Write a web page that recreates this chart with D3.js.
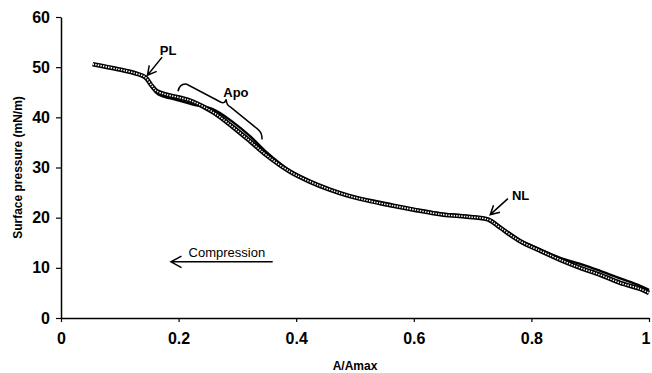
<!DOCTYPE html>
<html>
<head>
<meta charset="utf-8">
<script src="https://cdn.jsdelivr.net/npm/d3@7"></script>
<style>
  body { margin: 0; background: #fff; }
  svg { display: block; font-family: "Liberation Sans", Arial, sans-serif; }
</style>
</head>
<body>
<svg id="chart"></svg>
<script>
var W = 652, H = 373;
var margin = {top: 17, left: 61, right: 3, bottom: 55};

// compression run (open markers)
var compX = [0.054, 0.097, 0.126, 0.143, 0.155, 0.163, 0.177, 0.199, 0.223, 0.259, 0.293, 0.322, 0.350, 0.389, 0.423, 0.457, 0.491, 0.526, 0.560, 0.600, 0.650, 0.690, 0.727, 0.747, 0.781, 0.815, 0.849, 0.883, 0.917, 0.951, 0.985, 1.0];
var compY = [50.6, 49.6, 48.8, 48.0, 46.2, 45.2, 44.6, 44.0, 43.2, 41.0, 38.0, 35.2, 32.4, 29.2, 27.2, 25.6, 24.3, 23.3, 22.5, 21.6, 20.6, 20.2, 19.6, 18.0, 15.3, 13.4, 11.6, 10.0, 8.6, 7.0, 5.8, 5.0];

// second run (solid line)
var lineX = [0.054, 0.097, 0.126, 0.143, 0.155, 0.165, 0.199, 0.223, 0.259, 0.293, 0.322, 0.350, 0.389, 0.423, 0.457, 0.491, 0.526, 0.560, 0.600, 0.650, 0.690, 0.727, 0.747, 0.781, 0.815, 0.849, 0.883, 0.917, 0.951, 0.985, 1.0];
var lineY = [50.5, 49.5, 48.7, 47.9, 46.0, 44.6, 43.4, 42.6, 41.6, 39.0, 36.2, 33.0, 29.4, 27.3, 25.7, 24.4, 23.4, 22.6, 21.7, 20.8, 20.4, 19.7, 18.2, 15.5, 13.7, 12.0, 10.8, 9.4, 7.9, 6.4, 5.6];

var xTicks = [0, 0.2, 0.4, 0.6, 0.8, 1];
var xTickLabels = ["0", "0.2", "0.4", "0.6", "0.8", "1"];
var yTicks = [0, 10, 20, 30, 40, 50, 60];

var svg = d3.select("#chart").attr("width", W).attr("height", H);

var x = d3.scaleLinear().domain([0, 1]).range([margin.left, W - margin.right]);
var y = d3.scaleLinear().domain([0, 60]).range([H - margin.bottom, margin.top]);

// axes
var xAxis = svg.append("g")
  .attr("transform", "translate(0," + y(0) + ")")
  .call(d3.axisBottom(x).tickValues(xTicks).tickFormat((d, i) => xTickLabels[i]).tickSize(4).tickSizeOuter(0).tickPadding(8));
var yAxis = svg.append("g")
  .attr("transform", "translate(" + x(0) + ",0)")
  .call(d3.axisLeft(y).tickValues(yTicks).tickSize(5).tickSizeOuter(0).tickPadding(6));

[xAxis, yAxis].forEach(g => {
  g.select(".domain").attr("stroke", "#000").attr("stroke-width", 1.5);
  g.selectAll(".tick line").attr("stroke", "#000").attr("stroke-width", 1.2);
  g.selectAll(".tick text")
    .attr("fill", "#000")
    .style("font-size", "16px")
    .style("font-weight", "bold")
    .style("font-family", "'Liberation Sans', Arial, sans-serif");
});
xAxis.selectAll(".tick text").attr("dy", "0.85em");
// keep the last label inside the frame
xAxis.selectAll(".tick text").filter(d => d === 1).attr("text-anchor", "end").attr("dx", "0.05em");

// axis titles
svg.append("text")
  .attr("x", 355).attr("y", 370)
  .attr("text-anchor", "middle")
  .style("font-size", "12px").style("font-weight", "bold")
  .text("A/Amax");
svg.append("text")
  .attr("transform", "translate(22," + y(30) + ") rotate(-90)")
  .attr("text-anchor", "middle")
  .style("font-size", "12px").style("font-weight", "bold")
  .text("Surface pressure (mN/m)");

var line = d3.line().curve(d3.curveCatmullRom.alpha(0.5));
var compPts = compX.map((v, i) => [x(v), y(compY[i])]);
var linePts = lineX.map((v, i) => [x(v), y(lineY[i])]);

// solid run
svg.append("path")
  .attr("d", line(linePts))
  .attr("fill", "none").attr("stroke", "#000").attr("stroke-width", 2.4);

// marker run: dark outline with a dotted pale core
svg.append("path")
  .attr("d", line(compPts))
  .attr("fill", "none").attr("stroke", "#000").attr("stroke-width", 4.6);
svg.append("path")
  .attr("d", line(compPts))
  .attr("fill", "none").attr("stroke", "#fff").attr("stroke-width", 1.6)
  .attr("stroke-dasharray", "1.4,1.2");

// annotations
function arrow(x1, y1, x2, y2, head) {
  var a = Math.atan2(y2 - y1, x2 - x1);
  var p = d3.path();
  p.moveTo(x1, y1); p.lineTo(x2, y2);
  p.moveTo(x2 - head * Math.cos(a - 0.5), y2 - head * Math.sin(a - 0.5));
  p.lineTo(x2, y2);
  p.lineTo(x2 - head * Math.cos(a + 0.5), y2 - head * Math.sin(a + 0.5));
  svg.append("path").attr("d", p.toString())
    .attr("fill", "none").attr("stroke", "#000").attr("stroke-width", 1.5);
}

// PL
arrow(x(0.172), y(52), x(0.147), y(48.4), 10);
svg.append("text").attr("x", x(0.168)).attr("y", 55)
  .style("font-size", "13px").style("font-weight", "bold").text("PL");

// NL
arrow(x(0.76), y(23.8), x(0.73), y(20.6), 10);
svg.append("text").attr("x", x(0.767)).attr("y", 200)
  .style("font-size", "13px").style("font-weight", "bold").text("NL");

// Apo brace
var b = d3.path();
b.moveTo(x(0.199), y(45.2));
b.quadraticCurveTo(x(0.202), y(46.8), x(0.214), y(46.6));
b.lineTo(x(0.272), y(43.0));
b.quadraticCurveTo(x(0.279), y(42.7), x(0.281), y(43.6));
b.moveTo(x(0.281), y(43.6));
b.quadraticCurveTo(x(0.281), y(42.4), x(0.289), y(42.0));
b.lineTo(x(0.335), y(37.6));
b.quadraticCurveTo(x(0.342), y(37.0), x(0.342), y(35.6));
svg.append("path").attr("d", b.toString())
  .attr("fill", "none").attr("stroke", "#000").attr("stroke-width", 1.5);
svg.append("text").attr("x", x(0.276)).attr("y", 97)
  .style("font-size", "13px").style("font-weight", "bold").text("Apo");

// Compression arrow
arrow(x(0.36), y(11.2), x(0.187), y(11.2), 12);
svg.append("text").attr("x", x(0.217)).attr("y", 257)
  .style("font-size", "13px").text("Compression");
</script>
</body>
</html>
